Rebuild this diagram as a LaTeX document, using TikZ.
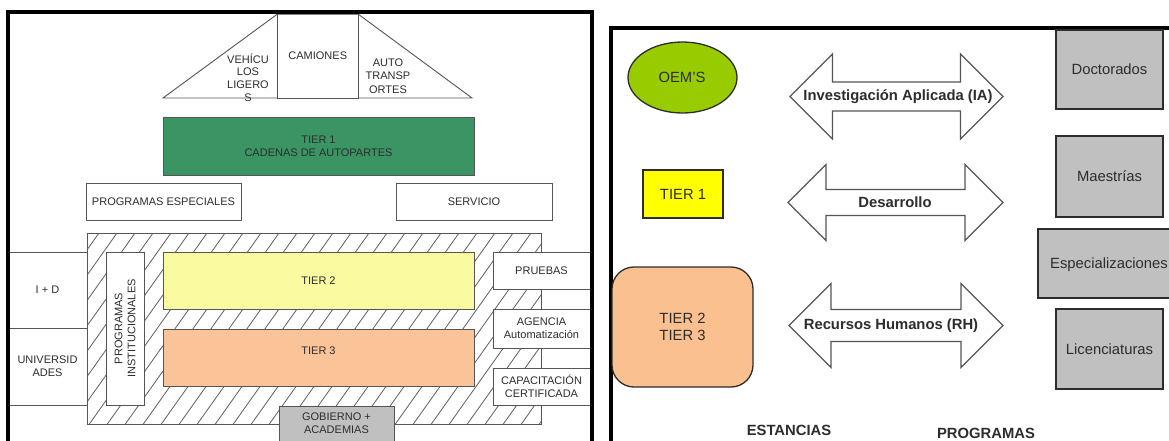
\documentclass[tikz,border=0pt]{standalone}
\usepackage{fontspec}
\setmainfont{Liberation Sans}
\usetikzlibrary{shapes.geometric}
\definecolor{inkgray}{RGB}{45,45,45}
\definecolor{linegray}{RGB}{85,85,85}
\definecolor{hatchgray}{RGB}{95,95,95}
\definecolor{tieronegreen}{RGB}{58,148,100}
\definecolor{tiertwoyellow}{RGB}{250,250,160}
\definecolor{tierthreepeach}{RGB}{250,196,152}
\definecolor{govgray}{RGB}{192,192,192}
\definecolor{oemgreen}{RGB}{153,204,0}
\definecolor{brightyellow}{RGB}{255,255,0}
\definecolor{roundpeach}{RGB}{250,192,144}
\definecolor{progray}{RGB}{192,192,192}
\newcommand\dblarrow[5]{% left tip x, right tip x, centre y, head half height, shaft half height
  \draw[arrowline] (#1,#3) -- (#1+#4,#3-#4) -- (#1+#4,#3-#5) -- (#2-#4,#3-#5)
    -- (#2-#4,#3-#4) -- (#2,#3) -- (#2-#4,#3+#4) -- (#2-#4,#3+#5)
    -- (#1+#4,#3+#5) -- (#1+#4,#3+#4) -- cycle;}
\begin{document}
\begin{tikzpicture}[x=1pt,y=-1pt,
  frameline/.style={draw=black,line width=3.2pt},
  thinline/.style={draw=linegray,line width=0.9pt},
  lbox/.style={thinline,fill=white,inner sep=0pt,align=center,text=inkgray,
    font=\fontsize{11}{13}\selectfont},
  ltext/.style={inner sep=0pt,align=center,text=inkgray,font=\fontsize{11}{13}\selectfont},
  rbox/.style={draw=inkgray,line width=1.3pt,inner sep=0pt,align=center,text=inkgray,
    font=\fontsize{14.8}{17}\selectfont},
  rtext/.style={inner sep=0pt,align=center,text=inkgray,font=\fontsize{14.8}{17}\selectfont},
  btext/.style={inner sep=0pt,align=center,text=inkgray,font=\fontsize{14.8}{17}\selectfont\bfseries},
  arrowline/.style={draw=linegray,line width=1.3pt,fill=white,line join=miter},
  hatchline/.style={draw=hatchgray,line width=0.8pt}]
\useasboundingbox (0,0) rectangle (1169,440);
\clip (0,0) rectangle (1169,440);
\fill[white] (0,0) rectangle (1169,440);

% ---------- left panel: cluster structure ----------
% roof
\draw[thinline] (163,98) -- (277.5,14) -- (277.5,98) -- cycle;
\draw[thinline] (358,14) -- (472,98) -- (358,98) -- cycle;
\node[lbox,minimum width=80.5,minimum height=84] (camiones) at (317.75,56) {CAMIONES};
\draw[draw=gray,line width=2pt] (277.5,13.5) -- (358,13.5);
\node[ltext,font=\fontsize{11}{12.7}\selectfont] (ligeros) at (248,77.5) {VEHÍCU\\LOS\\LIGERO\\S};
\node[ltext,font=\fontsize{11}{13.3}\selectfont] (autotr) at (388,76) {AUTO\\TRANSP\\ORTES};

% tier 1 chains
\node[lbox,fill=tieronegreen,minimum width=311,minimum height=58] (tierone) at (318.5,146)
  {TIER 1\\CADENAS DE AUTOPARTES};

% special programmes and service
\node[lbox,minimum width=155,minimum height=37] (progesp) at (163.5,201.5) {PROGRAMAS ESPECIALES};
\node[lbox,minimum width=156,minimum height=37] (servicio) at (474,201.5) {SERVICIO};

% hatched institutional frame
\draw[thinline] (87,233) rectangle (541,424.5);
\begin{scope}
  \clip (87,233) rectangle (541,424.5);
  \foreach \x in {-55,-37,...,545}
    \draw[hatchline] (\x,424.5) -- (\x+136,233);
\end{scope}

\node[lbox,minimum width=38,minimum height=153] (proginst) at (125,328.5) {};
\node[ltext,rotate=90] (proginsttxt) at (proginst.center) {PROGRAMAS\\INSTITUCIONALES};

\node[lbox,fill=tiertwoyellow,minimum width=311,minimum height=57] (tiertwo) at (318.5,280.5) {TIER 2};
\node[lbox,fill=tierthreepeach,minimum width=311,minimum height=57] (tierthree) at (318.5,357.5) {};
\node[ltext] (tierthreetxt) at (318.5,350.5) {TIER 3};

\node[lbox,fill=govgray,minimum width=115,minimum height=50] (gobierno) at (336.5,431) {};
\node[ltext] (gobiernotxt) at (336.5,423.5) {GOBIERNO +\\ACADEMIAS};

% side boxes
\node[lbox,minimum width=79,minimum height=76] (imasd) at (47.5,290) {I + D};
\node[lbox,minimum width=79,minimum height=77] (univ) at (47.5,366.5) {UNIVERSID\\ADES};
\node[lbox,minimum width=97,minimum height=37] (pruebas) at (541.5,271) {PRUEBAS};
\node[lbox,minimum width=97,minimum height=39] (agencia) at (541.5,328.5) {AGENCIA\\Automatización};
\node[lbox,minimum width=97,minimum height=37] (capac) at (541.5,386.5) {CAPACITACIÓN\\CERTIFICADA};

% panel frame
\draw[frameline] (8,460) -- (8,12) -- (592,12) -- (592,460);

% ---------- right panel: stays and programmes ----------
\draw[frameline] (611,460) -- (611,28) -- (1180,28);

\node[rbox,ellipse,fill=oemgreen,minimum width=109,minimum height=71] (oems) at (682.5,77.5) {};
\node[rtext] (oemstxt) at (682,77) {OEM'S};
\node[rbox,fill=brightyellow,minimum width=80,minimum height=48] (tieroner) at (683,194) {TIER 1};
\node[rbox,fill=roundpeach,rounded corners=22pt,minimum width=141,minimum height=120] (tiertt)
  at (682.5,327) {TIER 2\\TIER 3};

\dblarrow{790}{1003}{96.5}{42.5}{14.5}
\node[btext] (ia) at (898,97) {Investigación Aplicada (IA)};
\dblarrow{788}{1003}{202.5}{38}{13}
\node[btext] (desarrollo) at (895,202.5) {Desarrollo};
\dblarrow{789}{1003}{325.5}{42}{16}
\node[btext] (rh) at (891,325.5) {Recursos Humanos (RH)};

\node[rbox,fill=progray,minimum width=107,minimum height=79] (doct) at (1109.5,69.5) {Doctorados};
\node[rbox,fill=progray,minimum width=107,minimum height=81] (maest) at (1109.5,176.5) {Maestrías};
\node[rbox,fill=progray,minimum width=140,minimum height=69] (espec) at (1108,263.5) {};
\node[rtext] (espectxt) at (1109,265) {Especializaciones};
\node[rbox,fill=progray,minimum width=107,minimum height=80] (licen) at (1109.5,349) {Licenciaturas};

\node[btext] (estancias) at (789,430) {ESTANCIAS};
\node[btext] (programas) at (986,433) {PROGRAMAS};
\end{tikzpicture}
\end{document}
